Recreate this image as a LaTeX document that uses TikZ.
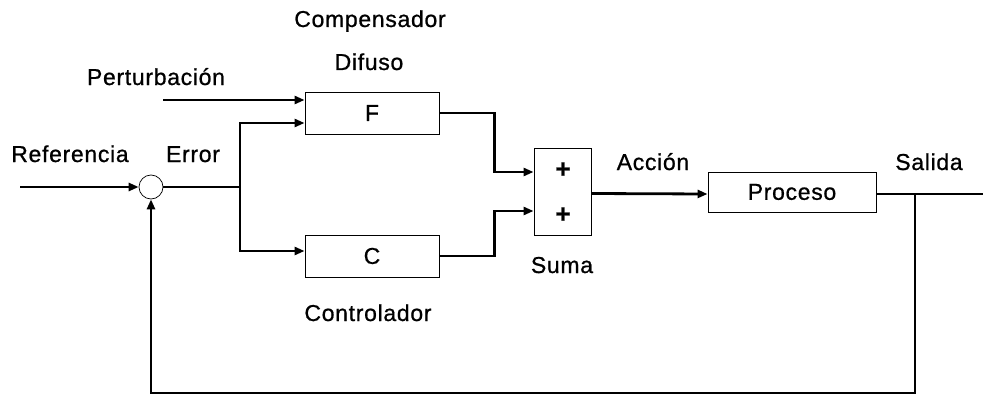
\documentclass[tikz,border=0pt]{standalone}
\usepackage{fontspec}
\setmainfont{Liberation Sans}[LetterSpace=3, FakeBold=0.8]
\usetikzlibrary{arrows.meta}

\begin{document}
\begin{tikzpicture}[x=1pt, y=-1pt,
    every node/.style={font=\fontsize{23}{27}\selectfont},
    bloque/.style={draw, line width=0.9pt, minimum width=134pt, minimum height=42pt, inner sep=0pt},
    etiqueta/.style={anchor=base, inner sep=0pt},
    senal/.style={line width=2.8pt},
    flecha/.style={senal, -{Triangle[length=10pt,width=8pt]}}]
    \useasboundingbox (0,0) rectangle (983,396);

    % Bloques
    \node[bloque] (F) at (372,113) {F};
    \node[bloque] (C) at (372,256) {C};
    \node[bloque, minimum width=57pt, minimum height=87pt] (suma) at (562.5,191.5) {};
    \node[bloque, minimum width=168pt, minimum height=40pt] (proceso) at (792,192) {Proceso};
    \node[draw, circle, minimum size=24pt, inner sep=0pt, line width=0.7pt] (comp) at (151,187) {};
    \node[font=\fontsize{26}{28}\selectfont\bfseries] (mas1) at (563,170) {+};
    \node[font=\fontsize{26}{28}\selectfont\bfseries] (mas2) at (563,215) {+};

    % Etiquetas
    \node[etiqueta] (ref) at (70,162) {Referencia};
    \node[etiqueta] (err) at (193,162) {Error};
    \node[etiqueta] (pert) at (156,85) {Perturbación};
    \node[etiqueta] (compens) at (370,27) {Compensador};
    \node[etiqueta] (difuso) at (369,70) {Difuso};
    \node[etiqueta] (ctrl) at (368,321) {Controlador};
    \node[etiqueta] (sumalbl) at (562,273) {Suma};
    \node[etiqueta] (accion) at (653,170) {Acción};
    \node[etiqueta] (salida) at (929,170) {Salida};

    % Puntos libres
    \coordinate (refin) at (20,187);
    \coordinate (pertin) at (163,100);
    \coordinate (rama) at (240,187);
    \coordinate (salfin) at (983,194);
    \coordinate (ramasal) at (915,194);

    % Conexiones
    \draw[flecha] (refin) -- (comp.west);
    \draw[flecha] (pertin) -- ([yshift=13pt]F.west);
    \draw[senal] (comp.east) -- (rama);
    \draw[flecha] (rama) |- ([yshift=-10pt]F.west);
    \draw[flecha] (rama) |- ([yshift=5pt]C.west);
    \draw[flecha] (F.east) -- ++(55,0) |- ([yshift=19.5pt]suma.west);
    \draw[flecha] (C.east) -- ++(55,0) |- ([yshift=-19.5pt]suma.west);
    \draw[flecha] ([yshift=-2pt]suma.east) -- ([yshift=-2pt]proceso.west);
    \draw[senal] ([yshift=-2pt]proceso.east) -- (salfin);
    \draw[flecha] (ramasal) -- ++(0,199) -| (comp.south);
\end{tikzpicture}
\end{document}
